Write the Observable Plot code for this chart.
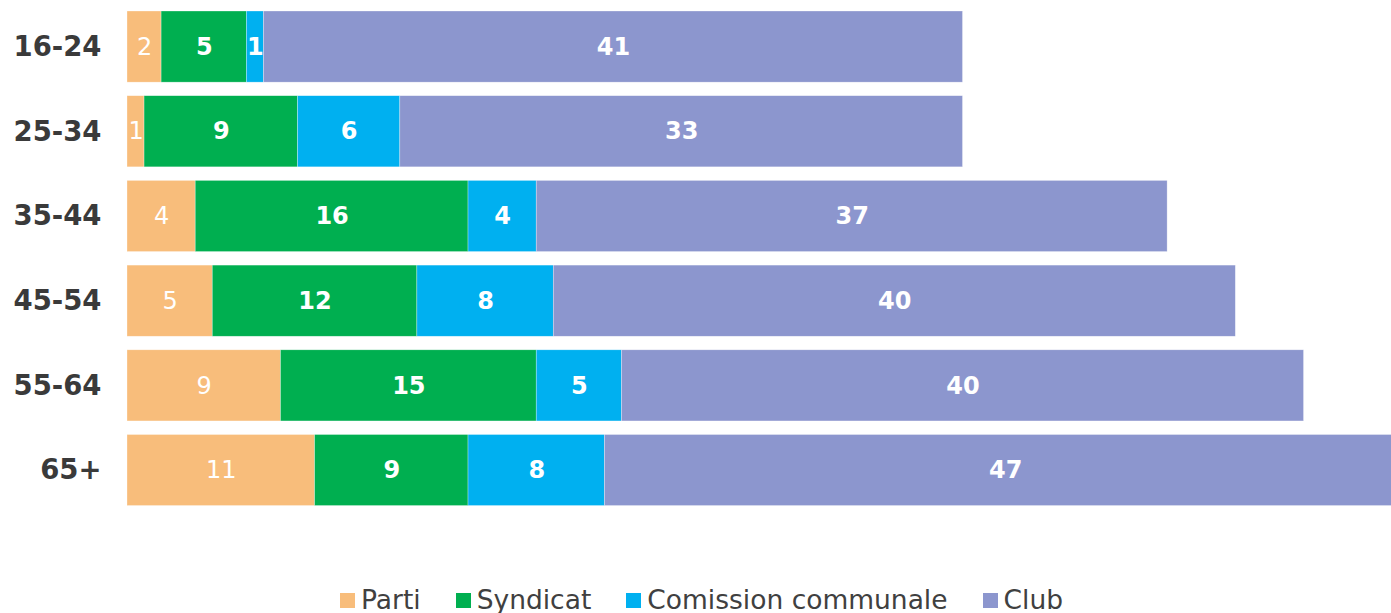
<!DOCTYPE html>
<html><head><meta charset="utf-8">
<script src="https://cdn.jsdelivr.net/npm/d3@7"></script>
<script src="https://cdn.jsdelivr.net/npm/@observablehq/plot@0.6"></script>
<style>
html,body{margin:0;padding:0;background:#fff;}
body{position:relative;width:1391px;height:613px;overflow:hidden;font-family:"DejaVu Sans",Verdana,sans-serif;}
#legend{position:absolute;left:6px;top:585px;width:1391px;height:30px;display:flex;justify-content:center;align-items:center;gap:35px;font-size:26.5px;color:#404040;line-height:30px;}
#legend .item{display:flex;align-items:center;}
#legend .sw{width:15px;height:15px;margin-right:6px;display:inline-block;}
</style></head><body>
<div id="chart"></div>
<div id="legend"></div>
<script>
const ageGroups = ["16-24", "25-34", "35-44", "45-54", "55-64", "65+"];
const seriesNames = ["Parti", "Syndicat", "Comission communale", "Club"];
const parti = [2, 1, 4, 5, 9, 11];
const syndicat = [5, 9, 16, 12, 15, 9];
const commission = [1, 6, 4, 8, 5, 8];
const club = [41, 33, 37, 40, 40, 47];
const colors = ["#F8BD7B", "#00AF50", "#00B0F0", "#8C96CE"];

const seriesValues = [parti, syndicat, commission, club];
const rows = [];
ageGroups.forEach((age, i) => {
  seriesNames.forEach((s, j) => rows.push({age, series: s, value: seriesValues[j][i]}));
});

const stackOpts = {x: "value", y: "age", z: "series", order: seriesNames};

const chart = Plot.plot({
  width: 1391,
  height: 560,
  marginLeft: 127,
  marginRight: 0,
  marginTop: 11,
  marginBottom: 54.35,
  style: {fontFamily: '"DejaVu Sans", Verdana, sans-serif', background: "#fff"},
  x: {domain: [0, 74.13], axis: null},
  y: {domain: ageGroups, paddingInner: 0.16, paddingOuter: 0, round: false, label: null},
  color: {domain: seriesNames, range: colors},
  marks: [
    Plot.barX(rows, Plot.stackX({...stackOpts, fill: "series", clip: true, stroke: "white", strokeWidth: 0.6, strokeOpacity: 0.5})),
    Plot.text(rows, Plot.stackX({...stackOpts, text: d => d.series === "Parti" ? String(d.value) : null, fill: "white", fontSize: 24, fontWeight: "normal"})),
    Plot.text(rows, Plot.stackX({...stackOpts, text: d => d.series !== "Parti" ? String(d.value) : null, fill: "white", fontSize: 24, fontWeight: "bold"})),
    Plot.axisY({tickSize: 0, tickPadding: 26, fontSize: 27.5, fontWeight: "bold", color: "#3a3a3a", label: null})
  ]
});
document.getElementById("chart").appendChild(chart);

const legend = document.getElementById("legend");
seriesNames.forEach((s, j) => {
  const item = document.createElement("span");
  item.className = "item";
  const sw = document.createElement("span");
  sw.className = "sw";
  sw.style.background = colors[j];
  item.appendChild(sw);
  item.appendChild(document.createTextNode(s));
  legend.appendChild(item);
});
</script>
</body></html>
